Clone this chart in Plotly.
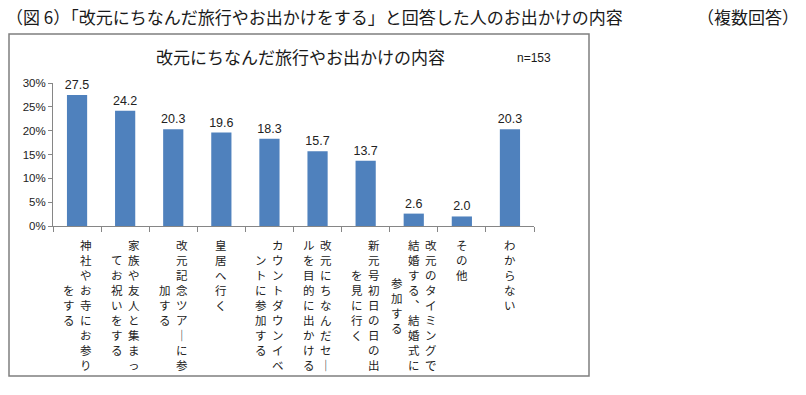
import plotly.graph_objects as go

# ---- data ----
label_columns = [
    ["神社やお寺にお参り", "をする"],
    ["家族や友人と集まっ", "てお祝いをする"],
    ["改元記念ツアーに参", "加する"],
    ["皇居へ行く"],
    ["カウントダウンイベ", "ントに参加する"],
    ["改元にちなんだセー", "ルを目的に出かける"],
    ["新元号初日の日の出", "を見に行く"],
    ["改元のタイミングで", "結婚する、結婚式に", "参加する"],
    ["その他"],
    ["わからない"],
]
categories = ["".join(c) for c in label_columns]
values = [27.5, 24.2, 20.3, 19.6, 18.3, 15.7, 13.7, 2.6, 2.0, 20.3]
y_ticks = [0, 5, 10, 15, 20, 25, 30]

outer_title = "（図 6）「改元にちなんだ旅行やお出かけをする」と回答した人のお出かけの内容"
outer_note = "（複数回答）"
chart_title = "改元にちなんだ旅行やお出かけの内容"
n_note = "n=153"

# ---- layout geometry ----
W, H = 806, 395
ML, MR, MT, MB = 53, 272, 83, 169
PW, PH = W - ML - MR, H - MT - MB


def px(x):
    return (x - ML) / PW


def py(y):
    return (H - MB - y) / PH


JP = "Noto Sans CJK JP"
LAT = "Liberation Sans"

fig = go.Figure(
    go.Bar(
        x=categories,
        y=values,
        width=0.42,
        marker=dict(color="#4F81BD", line=dict(width=0)),
        texttemplate="%{y:.1f}",
        textposition="outside",
        constraintext="none",
        textfont=dict(family=LAT, size=12.5, color="#222222"),
        cliponaxis=False,
    )
)

fig.update_layout(
    width=W,
    height=H,
    margin=dict(l=ML, r=MR, t=MT, b=MB, pad=0),
    paper_bgcolor="white",
    plot_bgcolor="white",
    showlegend=False,
    bargap=0.58,
)
fig.update_xaxes(
    type="category",
    range=[-0.5, len(categories) - 0.5],
    showticklabels=False,
    showline=True,
    linecolor="#868686",
    linewidth=1,
    ticks="outside",
    tickson="boundaries",
    ticklen=5,
    tickcolor="#868686",
    showgrid=False,
    zeroline=False,
)
fig.update_yaxes(
    range=[0, 30],
    tickvals=y_ticks,
    ticktext=[f"{v}%" for v in y_ticks],
    showline=True,
    linecolor="#868686",
    linewidth=1,
    ticks="outside",
    ticklen=4,
    tickcolor="#868686",
    tickfont=dict(family=LAT, size=11.5, color="#222222"),
    showgrid=False,
    zeroline=False,
)

# frame around chart
fig.add_shape(
    type="rect", xref="paper", yref="paper",
    x0=px(9), x1=px(589), y0=py(376), y1=py(34),
    line=dict(color="#7f7f7f", width=1.5), fillcolor="rgba(0,0,0,0)",
)

annotations = [
    dict(text=outer_title, xref="paper", yref="paper", x=px(4), y=py(16),
         xanchor="left", yanchor="middle", showarrow=False,
         font=dict(family=JP, size=17, color="#1a1a1a")),
    dict(text=outer_note, xref="paper", yref="paper", x=px(801), y=py(16),
         xanchor="right", yanchor="middle", showarrow=False,
         font=dict(family=JP, size=17, color="#1a1a1a")),
    dict(text=chart_title, xref="paper", yref="paper", x=px(300), y=py(56),
         xanchor="center", yanchor="middle", showarrow=False,
         font=dict(family=JP, size=17, color="#1a1a1a")),
    dict(text=n_note, xref="paper", yref="paper", x=px(515), y=py(58),
         xanchor="left", yanchor="middle", showarrow=False,
         font=dict(family=LAT, size=12, color="#1a1a1a")),
]

# vertical (tategaki) category labels
VFORM = {"ー": "｜", "、": "︑"}
FS = 11.5
LH = FS * 1.3
COL_SP = 17
TOP_GAP = 12
for cat, cols in zip(categories, label_columns):
    L = max(len(c) for c in cols)
    n = len(cols)
    for i, col in enumerate(cols):
        txt = "<br>".join(VFORM.get(ch, ch) for ch in col)
        annotations.append(dict(
            text=txt, x=cat, y=0, xref="x", yref="y",
            xanchor="center", yanchor="middle", showarrow=False,
            xshift=((n - 1) / 2 - i) * COL_SP,
            yshift=-(TOP_GAP + L * LH / 2),
            font=dict(family=JP, size=FS, color="#222222"),
        ))

fig.update_layout(annotations=annotations)
fig.write_html(
    "out.html",
    config={"displayModeBar": False},
    post_script="document.body.style.margin='0';document.body.style.padding='0';",
)
